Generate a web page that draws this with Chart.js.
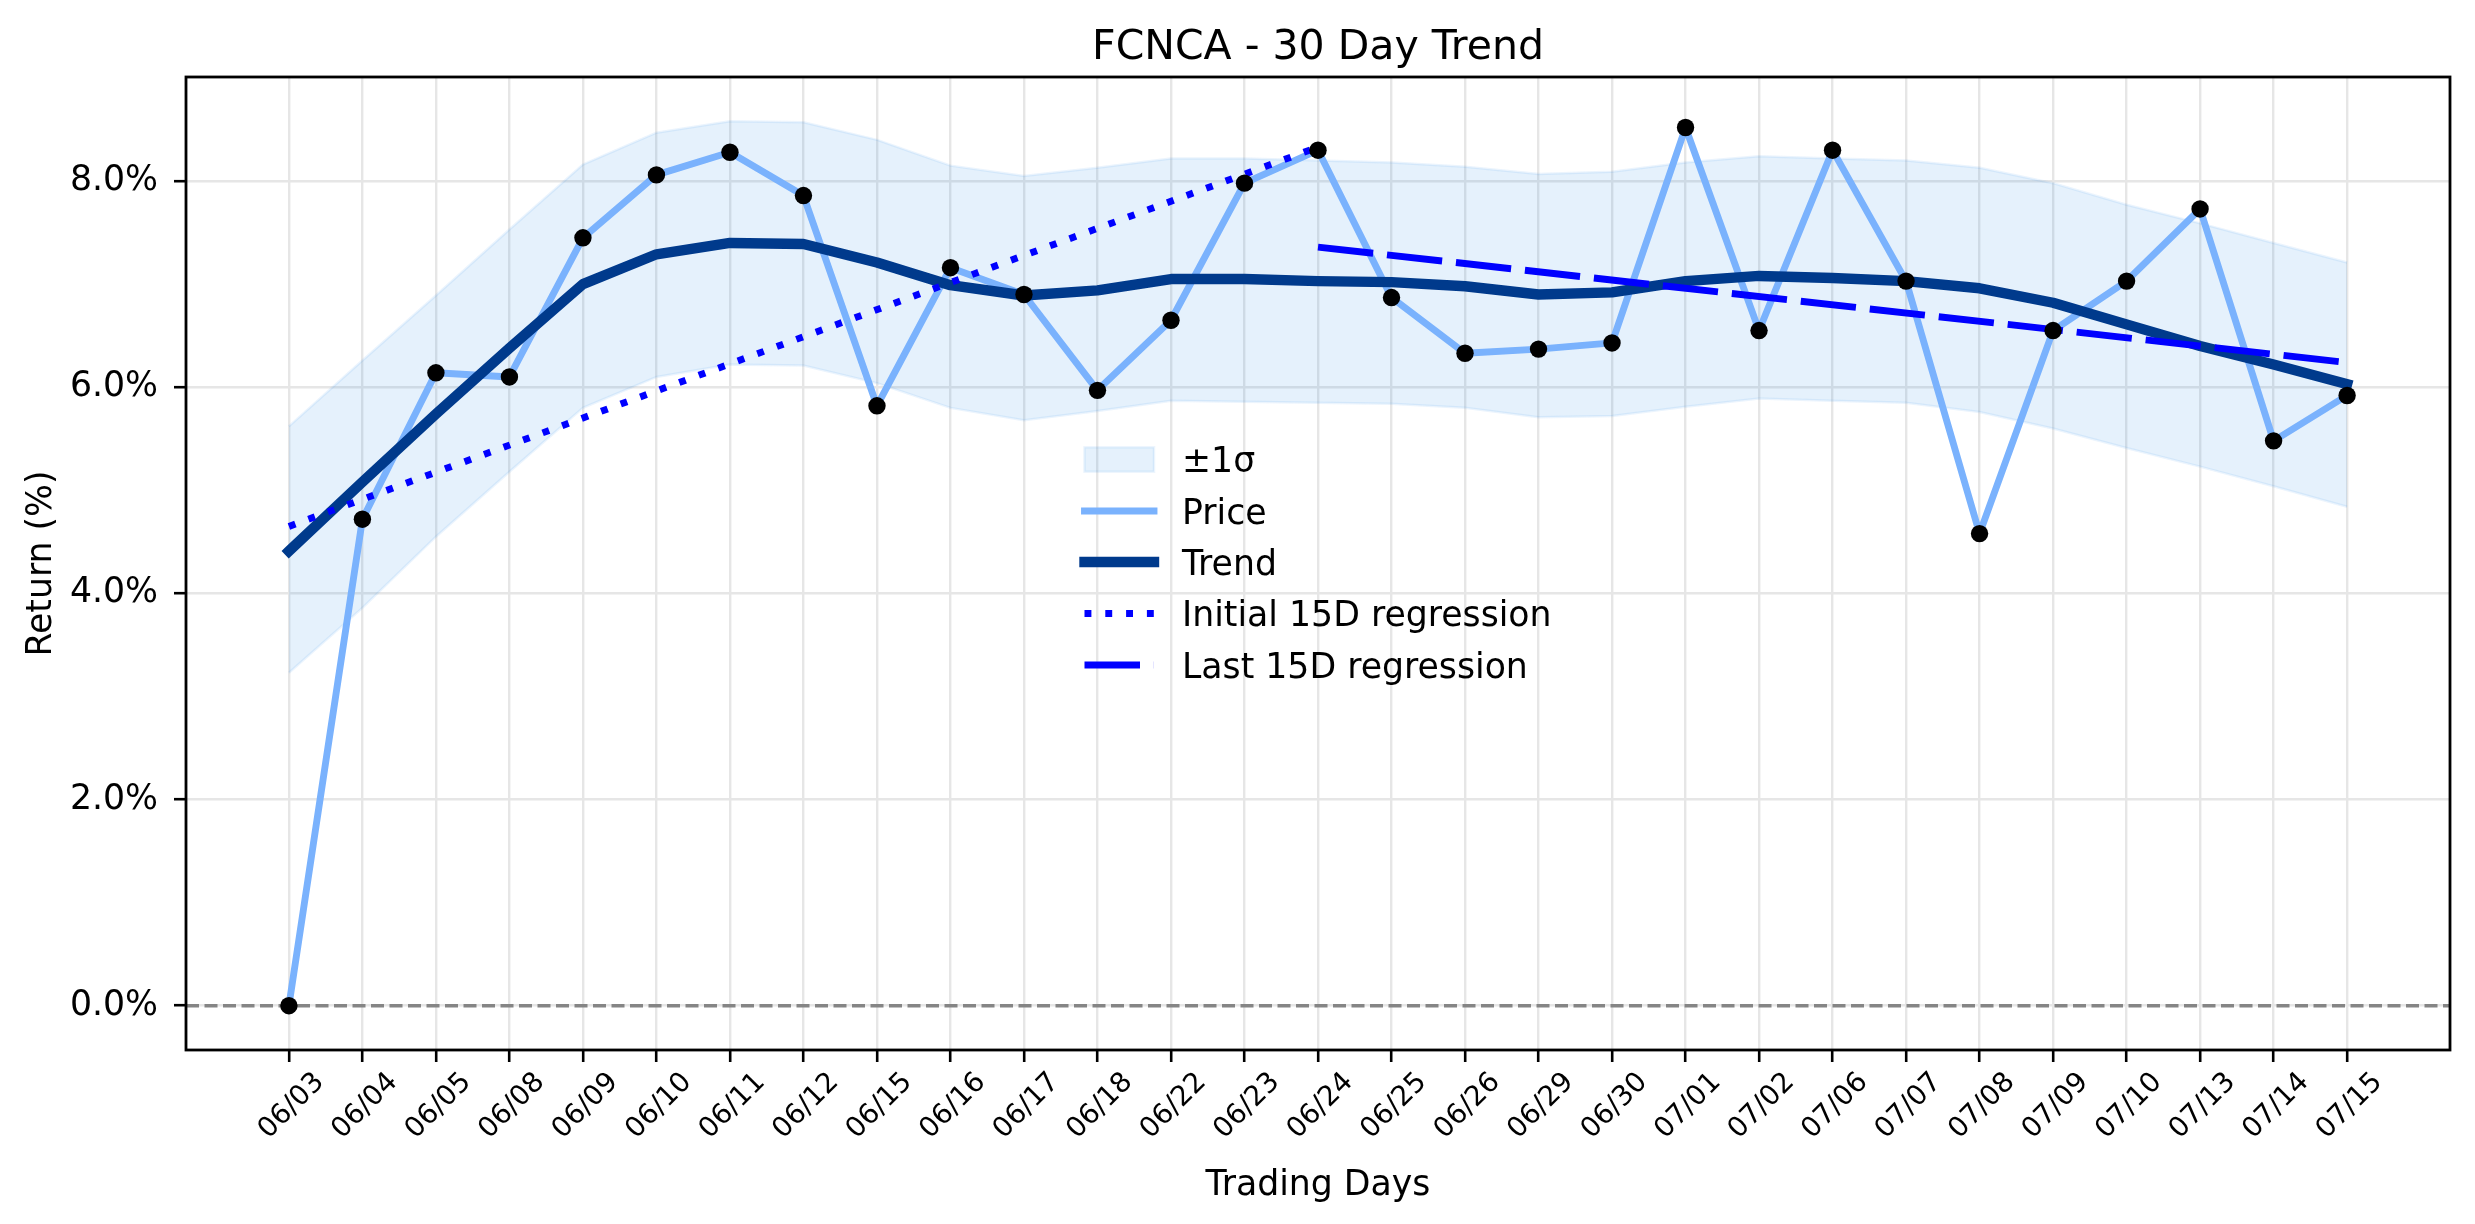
<!DOCTYPE html>
<html>
<head>
<meta charset="utf-8">
<script src="https://cdn.jsdelivr.net/npm/chart.js@4.4.1/dist/chart.umd.min.js"></script>
<style>
html,body{margin:0;padding:0;background:#fff;}
#wrap{width:2475px;height:1224px;position:relative;}
</style>
</head>
<body>
<div id="wrap"><canvas id="c" width="2475" height="1224"></canvas></div>
<script>
// ---- data ----
const dates = ["06/03","06/04","06/05","06/08","06/09","06/10","06/11","06/12","06/15","06/16","06/17","06/18","06/22","06/23","06/24","06/25","06/26","06/29","06/30","07/01","07/02","07/06","07/07","07/08","07/09","07/10","07/13","07/14","07/15"];
const price = [0.00,4.72,6.14,6.10,7.45,8.06,8.28,7.86,5.82,7.16,6.90,5.97,6.65,7.98,8.30,6.87,6.33,6.37,6.43,8.52,6.55,8.30,7.03,4.58,6.55,7.03,7.73,5.48,5.92];
const trend = [4.41,5.08,5.74,6.38,7.00,7.29,7.40,7.39,7.21,6.99,6.89,6.94,7.05,7.05,7.03,7.02,6.98,6.90,6.92,7.03,7.08,7.06,7.03,6.96,6.82,6.61,6.40,6.22,6.03];
const bandUpper = [5.62,6.26,6.89,7.53,8.16,8.47,8.58,8.57,8.40,8.15,8.05,8.13,8.22,8.22,8.20,8.18,8.14,8.07,8.09,8.18,8.24,8.22,8.20,8.13,7.98,7.77,7.59,7.40,7.21];
const bandLower = [3.23,3.86,4.55,5.18,5.80,6.10,6.22,6.21,6.04,5.80,5.68,5.77,5.87,5.86,5.85,5.84,5.80,5.71,5.72,5.81,5.89,5.87,5.85,5.76,5.60,5.41,5.23,5.04,4.84];
const initRegIdx = [0, 14];
const initRegVals = [4.65, 8.33];
const lastRegIdx = [14, 28];
const lastRegVals = [7.36, 6.24];
const yTickValues = [0, 2, 4, 6, 8];
const zeroLineValue = 0;
const legendLabels = ["\u00b11\u03c3", "Price", "Trend", "Initial 15D regression", "Last 15D regression"];
const titleText = "FCNCA - 30 Day Trend";
const xTitle = "Trading Days";
const yTitle = "Return (%)";

// ---- styles ----
const FONT = "'DejaVu Sans', sans-serif";
const COL = {
  band: 'rgba(30,136,229,0.115)',
  bandEdge: 'rgba(30,136,229,0.09)',
  price: '#7ab2fd',
  trend: '#003a8c',
  reg: '#0000ff',
  marker: '#000000',
  zero: 'rgba(128,128,128,0.95)',
  grid: '#e6e6e6'
};
const LW = { price: 6.9, trend: 10.4, reg: 6.9 };
const DOT = [6.9, 13.9];
const DASH = [55.5, 13.9];

const toXY = (vals, idx) => vals.map((v, i) => ({ x: idx ? idx[i] : i, y: v }));

const zeroLinePlugin = {
  id: 'zeroLine',
  beforeDatasetsDraw(chart) {
    const { ctx, chartArea, scales } = chart;
    const y = scales.y.getPixelForValue(zeroLineValue);
    ctx.save();
    ctx.strokeStyle = COL.zero;
    ctx.lineWidth = 3.5;
    ctx.setLineDash([13, 5.5]);
    ctx.beginPath();
    ctx.moveTo(chartArea.left, y);
    ctx.lineTo(chartArea.right, y);
    ctx.stroke();
    ctx.restore();
  }
};

const framePlugin = {
  id: 'frame',
  afterDatasetsDraw(chart) {
    const { ctx, chartArea } = chart;
    ctx.save();
    ctx.strokeStyle = '#000';
    ctx.lineWidth = 2.8;
    ctx.strokeRect(chartArea.left, chartArea.top, chartArea.right - chartArea.left, chartArea.bottom - chartArea.top);
    ctx.restore();
  }
};

const legendPlugin = {
  id: 'customLegend',
  afterDraw(chart) {
    const { ctx } = chart;
    const x0 = 1084.5, x1 = 1154, tx = 1182;
    const rows = [459.5, 511, 562, 613.5, 665];
    const fs = 34.7;
    ctx.save();
    const ph = 24.3;
    ctx.fillStyle = COL.band;
    ctx.fillRect(x0, rows[0] - ph / 2, x1 - x0, ph);
    ctx.strokeStyle = COL.bandEdge;
    ctx.lineWidth = 2.5;
    ctx.strokeRect(x0, rows[0] - ph / 2, x1 - x0, ph);
    const line = (y, color, w, dash, cap) => {
      ctx.beginPath();
      ctx.strokeStyle = color;
      ctx.lineWidth = w;
      ctx.setLineDash(dash);
      ctx.lineCap = cap;
      ctx.moveTo(x0, y);
      ctx.lineTo(x1, y);
      ctx.stroke();
    };
    line(rows[1], COL.price, LW.price, [], 'square');
    line(rows[2], COL.trend, LW.trend, [], 'square');
    line(rows[3], COL.reg, LW.reg, DOT, 'butt');
    line(rows[4], COL.reg, LW.reg, DASH, 'butt');
    ctx.setLineDash([]);
    ctx.fillStyle = '#000';
    ctx.font = fs + "px " + FONT;
    ctx.textAlign = 'left';
    ctx.textBaseline = 'alphabetic';
    legendLabels.forEach((t, i) => ctx.fillText(t, tx, rows[i] + 0.3645 * fs));
    ctx.restore();
  }
};

Chart.defaults.color = '#000';
Chart.defaults.font.family = FONT;

new Chart(document.getElementById('c'), {
  type: 'line',
  data: {
    datasets: [
      { label: 'upper', data: toXY(bandUpper), fill: '+1', backgroundColor: COL.band, borderColor: COL.bandEdge, borderWidth: 2.5, pointRadius: 0, order: 10 },
      { label: 'lower', data: toXY(bandLower), fill: false, borderColor: COL.bandEdge, borderWidth: 2.5, pointRadius: 0, order: 9 },
      { label: 'Price', data: toXY(price), borderColor: COL.price, borderWidth: LW.price, pointRadius: 0, borderJoinStyle: 'round', borderCapStyle: 'square', fill: false, order: 5 },
      { label: 'Trend', data: toXY(trend), borderColor: COL.trend, borderWidth: LW.trend, pointRadius: 0, borderJoinStyle: 'round', borderCapStyle: 'square', fill: false, order: 4 },
      { label: 'Initial 15D regression', data: toXY(initRegVals, initRegIdx), borderColor: COL.reg, borderWidth: LW.reg, borderDash: DOT, pointRadius: 0, fill: false, order: 3 },
      { label: 'Last 15D regression', data: toXY(lastRegVals, lastRegIdx), borderColor: COL.reg, borderWidth: LW.reg, borderDash: DASH, pointRadius: 0, fill: false, order: 2 },
      { label: 'points', data: toXY(price), showLine: false, pointRadius: 8.7, pointBackgroundColor: COL.marker, pointBorderWidth: 0, fill: false, order: 1 }
    ]
  },
  options: {
    responsive: false,
    devicePixelRatio: 1,
    animation: false,
    events: [],
    layout: { padding: { left: 0, right: 25, top: 0, bottom: 0 } },
    plugins: {
      legend: { display: false },
      tooltip: { enabled: false },
      title: {
        display: true, text: titleText, color: '#000', fullSize: false,
        font: { family: FONT, size: 41, weight: 'normal', lineHeight: 1.2 },
        padding: { top: 24, bottom: 3.8 }
      }
    },
    scales: {
      x: {
        type: 'linear', min: -1.4, max: 29.4,
        afterBuildTicks: s => { s.ticks = dates.map((d, i) => ({ value: i })); },
        afterFit: s => { s.height = 174; s.paddingLeft = 0; s.paddingRight = 0; },
        grid: { color: COL.grid, lineWidth: 2.4, drawTicks: true, tickLength: 12, tickColor: '#000', tickWidth: 2.6 },
        border: { display: false },
        ticks: {
          autoSkip: false, minRotation: 45, maxRotation: 45, labelOffset: 31, padding: 4,
          font: { family: FONT, size: 27.8 }, color: '#000',
          callback: v => dates[v] !== undefined ? dates[v] : ''
        },
        title: { display: true, text: xTitle, color: '#000', font: { family: FONT, size: 34.7 }, padding: { top: 0, bottom: 17 } }
      },
      y: {
        type: 'linear', min: -0.43, max: 9.01,
        afterBuildTicks: s => { s.ticks = yTickValues.map(v => ({ value: v })); },
        afterFit: s => { s.width = 186; },
        grid: { color: COL.grid, lineWidth: 2.4, drawTicks: true, tickLength: 12, tickColor: '#000', tickWidth: 2.6 },
        border: { display: false },
        ticks: {
          padding: 16, font: { family: FONT, size: 34.7 }, color: '#000',
          callback: v => v.toFixed(1) + '%'
        },
        title: { display: true, text: yTitle, color: '#000', font: { family: FONT, size: 34.7 }, padding: { top: 21, bottom: 0 } }
      }
    }
  },
  plugins: [zeroLinePlugin, framePlugin, legendPlugin]
});
</script>
</body>
</html>
